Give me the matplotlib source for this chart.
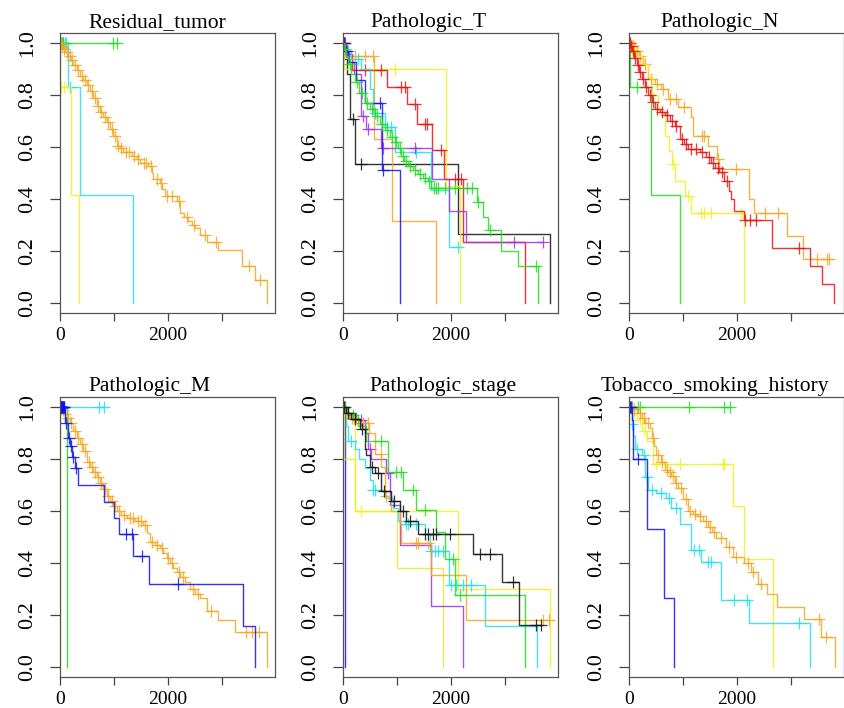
import numpy as np
import matplotlib
matplotlib.use("Agg")
import matplotlib.pyplot as plt

plt.rcParams['font.family'] = ['Liberation Serif', 'DejaVu Serif']

# ---- Residual_tumor ----
res_orange_t = [20, 60, 100, 150, 200, 250, 310, 370, 430, 495, 560, 620, 681, 743, 800, 867, 930, 991, 1053, 1110,
                1176, 1331, 1420, 1486, 1641, 1700, 1734, 1858, 1900, 1950, 2167, 2229, 2300, 2384, 2450, 2508, 2600,
                2724, 2941, 3375, 3622, 3839]
res_orange_s = [0.99, 0.98, 0.965, 0.95, 0.935, 0.915, 0.896, 0.875, 0.86, 0.84, 0.815, 0.79, 0.76, 0.735, 0.715,
                0.696, 0.67, 0.644, 0.605, 0.595, 0.58, 0.567, 0.555, 0.54, 0.528, 0.5, 0.476, 0.463, 0.44, 0.411,
                0.392, 0.347, 0.33, 0.314, 0.3, 0.288, 0.26, 0.233, 0.204, 0.14, 0.088, 0.0]
res_orange_c = [10, 40, 80, 130, 180, 230, 280, 340, 400, 460, 520, 590, 650, 710, 770, 840, 900, 960, 1020, 1080,
                1140, 1230, 1280, 1380, 1450, 1550, 1600, 1680, 1800, 1880, 1990, 2080, 2200, 2350, 2480, 2700, 2900,
                3500, 3720]
res_green_t, res_green_s, res_green_c = [], [], [30, 60, 980, 1065]
res_cyan_t = [155, 371, 1350]
res_cyan_s = [0.83, 0.415, 0.0]
res_cyan_c = [20, 40, 60, 90, 110, 185]
res_yellow_t = [5, 204, 346]
res_yellow_s = [0.833, 0.417, 0.0]
res_yellow_c = [10, 80]

# ---- Pathologic_T ----
pt_black_t = [25, 80, 136, 216, 2134, 3847]
pt_black_s = [0.94, 0.88, 0.71, 0.535, 0.265, 0.0]
pt_black_c = [10, 185, 340]
pt_red_t = [60, 160, 822, 1194, 1373, 1657, 1874, 2226, 3370]
pt_red_s = [0.96, 0.896, 0.83, 0.765, 0.69, 0.59, 0.475, 0.235, 0.0]
pt_red_c = [30, 402, 711, 1082, 1144, 1330, 1515, 1565, 1812, 2072, 2183]
pt_yellow_t = [15, 1917, 2164]
pt_yellow_s = [0.9, 0.45, 0.0]
pt_yellow_c = [958]
pt_orange_t = [60, 575, 915, 1719]
pt_orange_s = [0.95, 0.63, 0.315, 0.0]
pt_orange_c = [20, 216, 402, 557]
pt_blue_t = [30, 100, 250, 402, 720, 1064]
pt_blue_s = [0.97, 0.93, 0.86, 0.77, 0.51, 0.0]
pt_blue_c = [10, 50, 690, 745]
pt_cyan_t = [40, 150, 340, 495, 557, 773, 958, 1639, 1966]
pt_cyan_s = [0.97, 0.94, 0.9, 0.825, 0.73, 0.676, 0.58, 0.435, 0.215]
pt_cyan_c = [100, 270, 600, 820, 900, 1360, 2134]
pt_purple_t = [40, 120, 200, 340, 433, 711, 1657, 1966, 2288]
pt_purple_s = [0.97, 0.93, 0.88, 0.72, 0.67, 0.595, 0.475, 0.355, 0.235]
pt_purple_c = [20, 80, 380, 470, 750, 1340, 3172, 3711]
pt_green_t = [20, 60, 100, 155, 220, 300, 402, 500, 588, 680, 773, 870, 958, 1020, 1082, 1140, 1206, 1300, 1391,
              1480, 1577, 1639, 2492, 2600, 2690, 2938, 3247, 3618]
pt_green_s = [0.98, 0.95, 0.92, 0.88, 0.85, 0.81, 0.77, 0.745, 0.72, 0.69, 0.664, 0.64, 0.62, 0.595, 0.567, 0.548,
              0.528, 0.51, 0.495, 0.48, 0.47, 0.444, 0.39, 0.33, 0.28, 0.2, 0.14, 0.0]
pt_green_c = [40, 130, 260, 350, 450, 540, 630, 720, 820, 910, 990, 1050, 1110, 1170, 1250, 1340, 1420, 1520, 1600,
              1680, 1720, 1760, 1900, 2080, 2300, 2400, 2510, 2730, 3590]

# ---- Pathologic_N ----
pn_green_t = [10, 400, 946]
pn_green_s = [0.833, 0.417, 0.0]
pn_green_c = [140]
pn_yellow_t = [40, 120, 250, 356, 418, 529, 664, 740, 800, 848, 1033, 1143, 2139]
pn_yellow_s = [0.98, 0.95, 0.92, 0.877, 0.8, 0.735, 0.644, 0.586, 0.534, 0.47, 0.41, 0.347, 0.0]
pn_yellow_c = [20, 60, 80, 817, 1100, 1340, 1389, 1524, 2077]
pn_orange_t = [30, 100, 180, 260, 356, 480, 602, 725, 910, 1155, 1186, 1463, 1635, 1678, 2219, 2323, 2926, 3233]
pn_orange_s = [0.99, 0.97, 0.95, 0.92, 0.864, 0.845, 0.825, 0.787, 0.754, 0.715, 0.644, 0.605, 0.553, 0.515, 0.4,
               0.347, 0.257, 0.17]
pn_orange_c = [10, 50, 70, 140, 200, 300, 400, 520, 640, 760, 880, 1020, 1350, 1400, 1650, 1980, 2530, 2760, 3491,
               3675, 3706]
pn_red_t = [20, 49, 90, 141, 190, 234, 290, 356, 420, 479, 570, 664, 760, 848, 940, 1020, 1094, 1309, 1420, 1524,
            1600, 1678, 1770, 1850, 1893, 1955, 2139, 2661, 3356, 3583, 3810]
pn_red_s = [0.99, 0.97, 0.945, 0.916, 0.89, 0.864, 0.83, 0.8, 0.775, 0.748, 0.735, 0.722, 0.70, 0.683, 0.631, 0.61,
            0.593, 0.58, 0.56, 0.54, 0.52, 0.502, 0.47, 0.43, 0.398, 0.353, 0.32, 0.21, 0.14, 0.07, 0.0]
pn_red_c = [10, 35, 70, 110, 160, 210, 260, 320, 390, 450, 520, 620, 700, 800, 880, 980, 1060, 1150, 1250, 1360,
            1480, 1560, 1650, 1720, 1810, 2150, 2250, 2350, 3153]

# ---- Pathologic_M ----
pm_yellow_t, pm_yellow_s, pm_yellow_c = [3], [0.0], []
pm_green_t, pm_green_s, pm_green_c = [124], [0.0], []
pm_cyan_t, pm_cyan_s, pm_cyan_c = [], [], [20, 730, 820]
pm_orange_t = [30, 70, 124, 180, 240, 310, 370, 430, 495, 560, 620, 681, 740, 800, 867, 930, 990, 1053, 1140, 1238,
               1400, 1548, 1610, 1672, 1760, 1858, 1920, 1981, 2040, 2105, 2170, 2229, 2320, 2415, 2510, 2601, 2724,
               2941, 3251, 3839]
pm_orange_s = [0.99, 0.975, 0.96, 0.94, 0.91, 0.88, 0.86, 0.83, 0.79, 0.77, 0.75, 0.73, 0.71, 0.685, 0.66, 0.64,
               0.62, 0.6, 0.585, 0.573, 0.56, 0.547, 0.515, 0.48, 0.47, 0.457, 0.437, 0.418, 0.4, 0.38, 0.365, 0.347,
               0.325, 0.3, 0.28, 0.263, 0.213, 0.18, 0.133, 0.0]
pm_orange_c = [15, 50, 100, 150, 210, 270, 340, 400, 460, 530, 590, 650, 710, 770, 830, 900, 960, 1020, 1100, 1190,
               1300, 1350, 1450, 1500, 1580, 1700, 1800, 1890, 2000, 2070, 2200, 2280, 2460, 2560, 2800, 3450, 3560,
               3700]
pm_blue_t = [93, 155, 186, 217, 279, 341, 823, 1009, 1102, 1350, 1653, 3387, 3610]
pm_blue_s = [0.94, 0.88, 0.85, 0.81, 0.765, 0.70, 0.635, 0.575, 0.51, 0.425, 0.32, 0.157, 0.0]
pm_blue_c = [5, 10, 15, 20, 25, 30, 40, 50, 60, 70, 80, 120, 170, 200, 240, 300, 1223, 1331, 1517, 2186]

# ---- Pathologic_stage ----
ps_blue_t, ps_blue_s, ps_blue_c = [30], [0.0], []
ps_yellow_t = [60, 216, 2134, 3847]
ps_yellow_s = [0.97, 0.6, 0.301, 0.0]
ps_yellow_c = [20, 330]
ps_gold_t = [20, 216, 1008, 1855]
ps_gold_s = [0.8, 0.6, 0.38, 0.0]
ps_gold_c = []
ps_black_t = [60, 155, 309, 402, 433, 495, 588, 711, 897, 1051, 1175, 1391, 2412, 2950, 3265]
ps_black_s = [0.98, 0.955, 0.915, 0.84, 0.815, 0.77, 0.745, 0.676, 0.637, 0.6, 0.56, 0.51, 0.435, 0.325, 0.16]
ps_black_c = [20, 100, 230, 350, 530, 650, 760, 950, 1110, 1250, 1515, 1577, 1670, 1732, 1979, 2536, 2733, 3154,
              3575, 3680]
ps_green_t = [100, 278, 433, 835, 1113, 1348, 1732, 1899, 2072, 3383]
ps_green_s = [0.97, 0.93, 0.87, 0.75, 0.68, 0.605, 0.52, 0.415, 0.275, 0.0]
ps_green_c = [40, 180, 711, 977, 1082, 1300, 1515, 2041, 2164]
ps_orange_t = [40, 120, 250, 480, 600, 711, 773, 900, 1051, 1082, 1639, 2288]
ps_orange_s = [0.98, 0.96, 0.94, 0.9, 0.82, 0.77, 0.66, 0.6, 0.55, 0.475, 0.355, 0.18]
ps_orange_c = [10, 60, 90, 160, 200, 380, 464, 700, 792, 1360, 1391, 1577, 3711, 3822]
ps_purple_t = [80, 250, 402, 464, 526, 804, 866, 1051, 1639, 2226]
ps_purple_s = [0.98, 0.95, 0.9, 0.84, 0.8, 0.745, 0.624, 0.47, 0.233, 0.0]
ps_purple_c = [30, 340, 500, 830]
ps_cyan_t = [20, 50, 93, 216, 300, 402, 495, 557, 773, 928, 1020, 1144, 1515, 1608, 1966, 2640, 3605]
ps_cyan_s = [0.98, 0.93, 0.87, 0.84, 0.8, 0.765, 0.72, 0.68, 0.65, 0.61, 0.56, 0.55, 0.51, 0.445, 0.314, 0.155, 0.0]
ps_cyan_c = [10, 150, 560, 600, 1160, 1206, 1360, 1640, 1700, 1760, 1850, 2010, 2100, 2230, 2380]

# ---- Tobacco_smoking_history ----
tb_green_t, tb_green_s, tb_green_c = [], [], [50, 170, 200, 1112, 1770, 1875]
tb_blue_t = [49, 80, 338, 645, 836]
tb_blue_s = [0.95, 0.8, 0.53, 0.265, 0.0]
tb_blue_c = [10, 30, 172]
tb_yellow_t = [60, 150, 250, 330, 449, 1924, 2139, 2680]
tb_yellow_s = [0.98, 0.95, 0.91, 0.87, 0.78, 0.62, 0.415, 0.0]
tb_yellow_c = [20, 100, 200, 300, 510, 664, 940, 1739, 1770]
tb_cyan_t = [20, 49, 80, 111, 234, 295, 356, 510, 695, 787, 940, 1155, 1340, 1709, 2219, 3368]
tb_cyan_s = [0.98, 0.935, 0.89, 0.84, 0.815, 0.73, 0.683, 0.67, 0.65, 0.61, 0.55, 0.45, 0.405, 0.256, 0.168, 0.0]
tb_cyan_c = [10, 60, 150, 280, 330, 420, 600, 740, 870, 1200, 1300, 1463, 1524, 1955, 2188, 3153]
tb_orange_t = [60, 150, 234, 300, 387, 418, 470, 510, 590, 664, 720, 787, 850, 910, 1002, 1094, 1180, 1278, 1370,
               1463, 1540, 1616, 1801, 1924, 2139, 2262, 2385, 2569, 2753, 3245, 3565, 3829]
tb_orange_s = [0.995, 0.98, 0.96, 0.94, 0.92, 0.88, 0.85, 0.815, 0.79, 0.76, 0.75, 0.735, 0.71, 0.69, 0.645, 0.6,
               0.59, 0.58, 0.56, 0.54, 0.52, 0.495, 0.463, 0.424, 0.4, 0.366, 0.32, 0.282, 0.23, 0.185, 0.114, 0.0]
tb_orange_c = [20, 100, 200, 270, 350, 450, 540, 620, 700, 760, 820, 880, 960, 1050, 1130, 1230, 1320, 1420, 1500,
               1580, 1700, 1850, 1980, 2200, 2300, 2450, 3530, 3660]

R_COL = {'orange': '#F5A623', 'green': '#22DD22', 'cyan': '#22E0EE', 'yellow': '#F0F020', 'gold': '#E8E830',
         'red': '#EE1111', 'blue': '#1111EE', 'purple': '#A030E8', 'black': '#111111'}

panels = [
    ("Residual_tumor", 0.453, [('cyan', res_cyan_t, res_cyan_s, res_cyan_c),
                               ('yellow', res_yellow_t, res_yellow_s, res_yellow_c),
                               ('green', res_green_t, res_green_s, res_green_c),
                               ('orange', res_orange_t, res_orange_s, res_orange_c)]),
    ("Pathologic_T", 0.396, [('black', pt_black_t, pt_black_s, pt_black_c),
                             ('orange', pt_orange_t, pt_orange_s, pt_orange_c),
                             ('yellow', pt_yellow_t, pt_yellow_s, pt_yellow_c),
                             ('red', pt_red_t, pt_red_s, pt_red_c),
                             ('cyan', pt_cyan_t, pt_cyan_s, pt_cyan_c),
                             ('purple', pt_purple_t, pt_purple_s, pt_purple_c),
                             ('blue', pt_blue_t, pt_blue_s, pt_blue_c),
                             ('green', pt_green_t, pt_green_s, pt_green_c)]),
    ("Pathologic_N", 0.42, [('green', pn_green_t, pn_green_s, pn_green_c),
                            ('orange', pn_orange_t, pn_orange_s, pn_orange_c),
                            ('yellow', pn_yellow_t, pn_yellow_s, pn_yellow_c),
                            ('red', pn_red_t, pn_red_s, pn_red_c)]),
    ("Pathologic_M", 0.414, [('yellow', pm_yellow_t, pm_yellow_s, pm_yellow_c),
                             ('green', pm_green_t, pm_green_s, pm_green_c),
                             ('cyan', pm_cyan_t, pm_cyan_s, pm_cyan_c),
                             ('orange', pm_orange_t, pm_orange_s, pm_orange_c),
                             ('blue', pm_blue_t, pm_blue_s, pm_blue_c)]),
    ("Pathologic_stage", 0.465, [('blue', ps_blue_t, ps_blue_s, ps_blue_c),
                                 ('gold', ps_gold_t, ps_gold_s, ps_gold_c),
                                 ('yellow', ps_yellow_t, ps_yellow_s, ps_yellow_c),
                                 ('cyan', ps_cyan_t, ps_cyan_s, ps_cyan_c),
                                 ('purple', ps_purple_t, ps_purple_s, ps_purple_c),
                                 ('orange', ps_orange_t, ps_orange_s, ps_orange_c),
                                 ('green', ps_green_t, ps_green_s, ps_green_c),
                                 ('black', ps_black_t, ps_black_s, ps_black_c)]),
    ("Tobacco_smoking_history", 0.40, [('green', tb_green_t, tb_green_s, tb_green_c),
                                       ('yellow', tb_yellow_t, tb_yellow_s, tb_yellow_c),
                                       ('cyan', tb_cyan_t, tb_cyan_s, tb_cyan_c),
                                       ('orange', tb_orange_t, tb_orange_s, tb_orange_c),
                                       ('blue', tb_blue_t, tb_blue_s, tb_blue_c)]),
]


def km_curve(ax, color, t, s, cens):
    x = np.array([0] + list(t), dtype=float)
    y = np.array([1.0] + list(s))
    if len(cens) and max(cens) > x[-1]:
        x = np.append(x, max(cens))
        y = np.append(y, y[-1])
    ax.step(x, y, where='post', color=color, lw=1.0, alpha=0.85)
    if len(cens):
        c = np.array(cens, dtype=float)
        idx = np.searchsorted(x, c, side='right') - 1
        ax.plot(c, y[idx], ls='none', marker='+', ms=8.5, mew=0.9, color=color, alpha=0.85)


fig = plt.figure(figsize=(8.45, 7.08), dpi=100)
lefts = [60, 343, 629]
bottoms = [313, 677]
W, H = 845.0, 708.0
for i, (title, tx, curves) in enumerate(panels):
    row, col = divmod(i, 3)
    ax = fig.add_axes([lefts[col] / W, 1 - bottoms[row] / H, 215 / W, 280 / H])
    for name, t, s, c in curves:
        km_curve(ax, R_COL[name], t, s, c)
    ax.set_xlim(0, 3990)
    ax.set_ylim(-0.04, 1.04)
    ax.set_xticks([0, 1000, 2000, 3000])
    ax.set_xticklabels(['0', '', '2000', ''])
    ax.set_yticks([0, 0.2, 0.4, 0.6, 0.8, 1.0])
    ax.set_yticklabels(['0.0', '0.2', '0.4', '0.6', '0.8', '1.0'], rotation=90, va='center')
    ax.tick_params(axis='x', direction='out', length=6, width=0.9, color='#444444', labelsize=14, pad=4)
    ax.tick_params(axis='y', direction='out', length=7.5, width=0.9, color='#444444', labelsize=16, pad=9)
    for sp in ax.spines.values():
        sp.set_color('#555555')
        sp.set_linewidth(0.9)
    ax.set_title(title, fontsize=15.5, x=tx, pad=4)

fig.savefig('out.png', dpi=100)
